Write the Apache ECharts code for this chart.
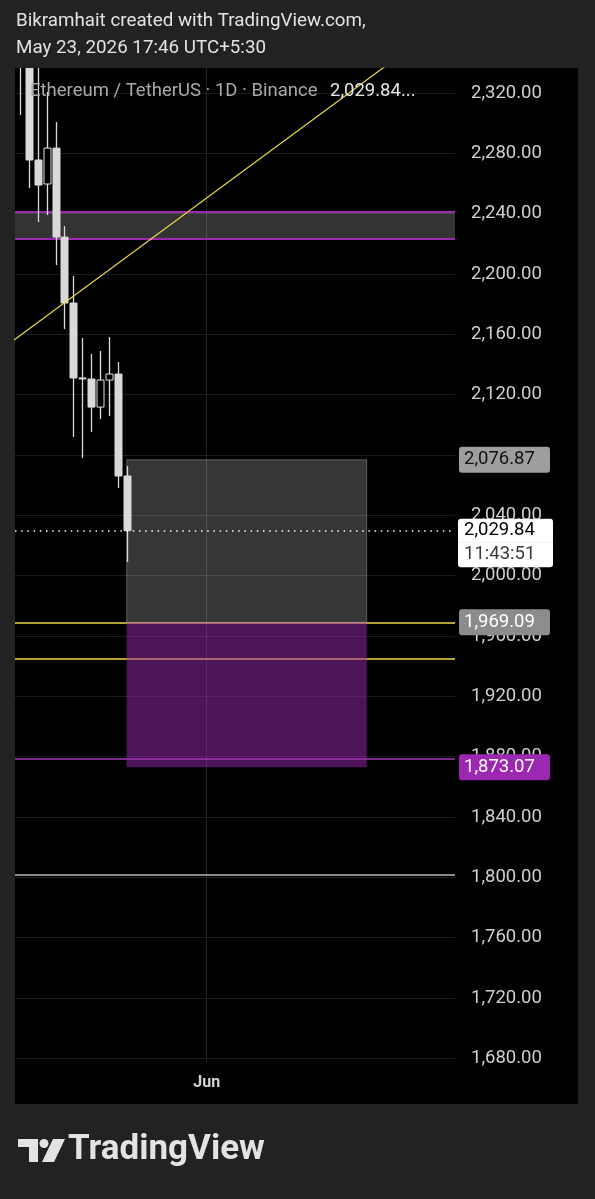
<!DOCTYPE html>
<html>
<head>
<meta charset="utf-8">
<script src="https://cdn.jsdelivr.net/npm/echarts@6/dist/echarts.min.js"></script>
<style>
html,body{margin:0;padding:0;background:#222222;}
#chart{width:595px;height:1199px;}
</style>
</head>
<body>
<div id="chart"></div>
<script>
// ---- data (x = day of month, May; Jun 1 = 32) ----
const days   = [11, 12, 13, 14, 15, 16, 17, 18, 19, 20, 21, 22, 23];
const opens  = [2372, 2348, 2275.6, 2259.7, 2283.5, 2224.5, 2180.8, 2131.1, 2130.4, 2111.8, 2129.7, 2133.7, 2066.1];
const closes = [2348, 2275.6, 2259.0, 2283.5, 2224.5, 2180.8, 2131.1, 2130.6, 2111.8, 2129.7, 2133.7, 2066.1, 2029.84];
const lows   = [2305.4, 2257.0, 2234.5, 2239.1, 2206.0, 2163.5, 2091.9, 2078.0, 2095.3, 2103.9, 2105.9, 2058.1, 2009.1];
const highs  = [2385, 2362, 2342, 2320.7, 2300.8, 2231.8, 2198.7, 2157.6, 2147.0, 2149.0, 2158.2, 2141.7, 2072.7];
const yTicks = [1680, 1720, 1760, 1800, 1840, 1880, 1920, 1960, 2000, 2040, 2080, 2120, 2160, 2200, 2240, 2280, 2320];
const xTickValues = [32];
const xTickLabels = ['Jun'];
const trendX = [10, 53];
const trendY = [2154.8, 2341.7];
const zoneTop = 2241.0, zoneBottom = 2223.1;
const boxStart = 23, boxEnd = 50;
const entryPrice = 2076.87, midPrice = 1969.09, targetPrice = 1873.07;
const lastPrice = 2029.84;
const countdown = '11:43:51';
const countdownLevel = 2013.9;
const yellowLevels = [1969.09, 1944.8];
const purpleLevel = 1878.5;
const whiteLevel = 1802;

const fmt = v => Number(v).toLocaleString('en-US', {minimumFractionDigits: 2, maximumFractionDigits: 2});
const candles = days.map((d, i) => [d, opens[i], closes[i], lows[i], highs[i]]);
const FONT = 'Roboto';
const TICK_FS = 18.5;

const chart = echarts.init(document.getElementById('chart'), null, {renderer: 'canvas'});

function tag(value, text, bg, fg) {
  return {
    yAxis: value,
    lineStyle: {width: 0, color: 'rgba(0,0,0,0)'},
    label: {
      show: true, position: 'end', distance: 4, formatter: text,
      backgroundColor: bg, color: fg, fontFamily: FONT, fontSize: TICK_FS,
      lineHeight: 19, padding: [4, 5, 3, 5], width: 81, borderRadius: 3
    }
  };
}

function renderCandle(params, api) {
  const x = api.value(0), o = api.value(1), c = api.value(2), l = api.value(3), h = api.value(4);
  const pO = api.coord([x, o]), pC = api.coord([x, c]);
  const pL = api.coord([x, l]), pH = api.coord([x, h]);
  const up = c >= o;
  const top = Math.min(pO[1], pC[1]), bot = Math.max(pO[1], pC[1]);
  const cx = Math.round(pO[0]) + 0.5;
  const col = up ? '#e0e0e0' : '#d9d9d9';
  return {
    type: 'group',
    children: [
      {type: 'line', shape: {x1: cx, y1: pH[1], x2: cx, y2: top}, style: {stroke: col, lineWidth: 1.3}},
      {type: 'line', shape: {x1: cx, y1: bot, x2: cx, y2: pL[1]}, style: {stroke: col, lineWidth: 1.3}},
      {type: 'rect', shape: {x: cx - 3.5, y: top, width: 7, height: Math.max(bot - top, 1)},
        style: {fill: up ? '#000000' : col, stroke: col, lineWidth: 1}}
    ]
  };
}

const option = {
  backgroundColor: '#222222',
  animation: false,
  grid: {left: 15, right: 140, top: 68, bottom: 137, containLabel: false},
  xAxis: {
    type: 'value', min: 10.44, max: 59.93,
    axisLine: {show: false},
    axisTick: {show: false, customValues: xTickValues},
    axisLabel: {
      customValues: xTickValues,
      formatter: v => xTickLabels[xTickValues.indexOf(v)] || '',
      color: '#d4d4d4', fontFamily: FONT, fontSize: 16, fontWeight: 'bold', margin: 13
    },
    splitLine: {show: true, lineStyle: {color: '#242424', width: 1}}
  },
  yAxis: {
    type: 'value', position: 'right', min: 1677.6, max: 2336.6,
    axisLine: {show: false},
    axisTick: {show: false, customValues: yTicks},
    axisLabel: {
      customValues: yTicks, formatter: v => fmt(v),
      color: '#cfcfcf', fontFamily: FONT, fontSize: TICK_FS, margin: 16
    },
    splitLine: {show: true, lineStyle: {color: '#1c1c1c', width: 1}}
  },
  graphic: [
    {type: 'rect', z: -100, silent: true, shape: {x: 15, y: 68, width: 563, height: 1036}, style: {fill: '#000000'}},
    {type: 'text', z: 100, style: {x: 16, y: 12, text: 'Bikramhait created with TradingView.com,', fill: '#e2e2e2', font: '18.8px Roboto', textVerticalAlign: 'top'}},
    {type: 'text', z: 100, style: {x: 16, y: 39, text: 'May 23, 2026 17:46 UTC+5:30', fill: '#e2e2e2', font: '18.8px Roboto', textVerticalAlign: 'top'}},
    {type: 'text', z: 100, style: {x: 30, y: 82, text: 'Ethereum / TetherUS · 1D · Binance', fill: '#a9a9a9', font: '18.5px Roboto', textVerticalAlign: 'top'}},
    {type: 'text', z: 100, style: {x: 330, y: 82, text: fmt(lastPrice) + '...', fill: '#e6e6e6', font: '18.5px Roboto', textVerticalAlign: 'top'}},
    // TradingView logo
    {type: 'rect', z: 100, shape: {x: 18, y: 1139, width: 20, height: 8}, style: {fill: '#e3e3e3'}},
    {type: 'rect', z: 100, shape: {x: 29, y: 1139, width: 9, height: 23}, style: {fill: '#e3e3e3'}},
    {type: 'circle', z: 100, shape: {cx: 44, cy: 1143.5, r: 4.5}, style: {fill: '#e3e3e3'}},
    {type: 'polygon', z: 100, shape: {points: [[53, 1139], [65, 1139], [54, 1162], [42, 1162]]}, style: {fill: '#e3e3e3'}},
    {type: 'text', z: 100, style: {x: 68, y: 1133, text: 'TradingView', fill: '#e3e3e3', font: 'bold 35px Roboto', textVerticalAlign: 'top'}}
  ],
  series: [
    {
      name: 'levels', type: 'line', data: [], silent: true,
      markLine: {
        z: 1, silent: true, symbol: ['none', 'none'], animation: false,
        label: {show: false},
        data: [
          {yAxis: zoneTop, lineStyle: {color: '#9c27b0', width: 2, type: 'solid'}},
          {yAxis: zoneBottom, lineStyle: {color: '#9c27b0', width: 2, type: 'solid'}},
          {yAxis: yellowLevels[0], lineStyle: {color: '#ecd943', width: 1.5, type: 'solid'}},
          {yAxis: yellowLevels[1], lineStyle: {color: '#ecd943', width: 1.5, type: 'solid'}},
          {yAxis: purpleLevel, lineStyle: {color: '#a63cba', width: 1.5, type: 'solid'}},
          {yAxis: whiteLevel, lineStyle: {color: '#b8b8b8', width: 1.5, type: 'solid'}}
        ]
      },
      markArea: {
        z: 1, silent: true,
        data: [[{yAxis: zoneTop, itemStyle: {color: 'rgba(255,255,255,0.2)'}}, {yAxis: zoneBottom}]]
      }
    },
    {
      name: 'boxes', type: 'line', data: [], silent: true,
      markArea: {
        z: 2, silent: true,
        data: [
          [{xAxis: boxStart, yAxis: entryPrice, itemStyle: {color: 'rgba(255,255,255,0.21)', borderColor: 'rgba(255,255,255,0.28)', borderWidth: 1}}, {xAxis: boxEnd, yAxis: midPrice}],
          [{xAxis: boxStart, yAxis: midPrice, itemStyle: {color: 'rgba(156,39,176,0.5)', borderWidth: 0}}, {xAxis: boxEnd, yAxis: targetPrice}]
        ]
      }
    },
    {
      name: 'ETHUSDT', type: 'custom', z: 3, clip: true,
      data: candles,
      encode: {x: 0, y: [1, 2, 3, 4]},
      renderItem: renderCandle
    },
    {
      name: 'trend', type: 'line', z: 4, clip: true, showSymbol: false, symbol: 'none',
      data: trendX.map((x, i) => [x, trendY[i]]),
      lineStyle: {color: '#ecd943', width: 1.2}
    },
    {
      name: 'tags', type: 'line', data: [], silent: true,
      markLine: {
        z: 6, silent: true, symbol: ['none', 'none'], animation: false,
        data: [
          {yAxis: lastPrice, lineStyle: {color: '#ffffff', width: 1.5, type: [1.5, 4.7]},
            label: {show: true, position: 'end', distance: 3, formatter: fmt(lastPrice), backgroundColor: '#ffffff', color: '#000000',
              fontFamily: FONT, fontSize: TICK_FS, lineHeight: 19, padding: [4, 6, 1, 6], width: 83, borderRadius: [3, 3, 0, 0]}},
          {yAxis: countdownLevel, lineStyle: {width: 0, color: 'rgba(0,0,0,0)'},
            label: {show: true, position: 'end', distance: 3, formatter: countdown, backgroundColor: '#ffffff', color: '#3a3a3a',
              fontFamily: FONT, fontSize: TICK_FS, lineHeight: 19, padding: [2, 6, 4, 6], width: 83, borderRadius: [0, 0, 3, 3]}},
          tag(entryPrice, fmt(entryPrice), '#9e9e9e', '#111111'),
          tag(midPrice, fmt(midPrice), '#8c8c8c', '#ffffff'),
          tag(targetPrice, fmt(targetPrice), '#9c27b0', '#ffffff')
        ]
      }
    }
  ]
};
chart.setOption(option);
</script>
</body>
</html>
